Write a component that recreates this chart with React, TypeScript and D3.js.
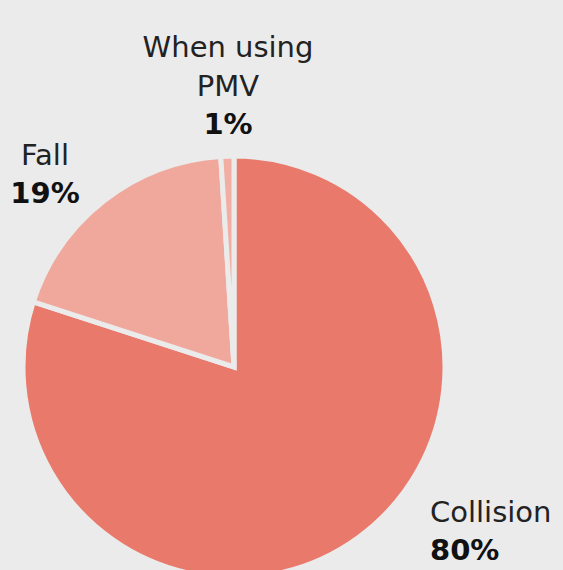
import { useEffect, useRef } from 'react'
import * as d3 from 'd3'

const categories = ['Collision', 'Fall', 'When using PMV']
const shares = [80, 19, 1]
const colors = ['#e8796b', '#f0a89c', '#f2aea3']

export default function App() {
  const svgRef = useRef<SVGSVGElement>(null)

  useEffect(() => {
    if (!svgRef.current) return
    const width = 563
    const height = 570
    const svg = d3.select(svgRef.current)
    svg.selectAll('*').remove()

    svg.append('rect').attr('width', width).attr('height', height).attr('fill', '#ebebeb')

    const cx = 234
    const cy = 367
    const radius = 211

    const data = categories.map((c, i) => ({ name: c, value: shares[i], color: colors[i] }))
    const pie = d3.pie<typeof data[0]>().value(d => d.value).sort(null)
    const arc = d3.arc<d3.PieArcDatum<typeof data[0]>>().innerRadius(0).outerRadius(radius)

    const g = svg.append('g').attr('transform', `translate(${cx},${cy})`)
    g.selectAll('path')
      .data(pie(data))
      .enter().append('path')
      .attr('d', arc)
      .attr('fill', d => d.data.color)
      .attr('stroke', '#ebebeb')
      .attr('stroke-width', 5)
      .attr('stroke-linejoin', 'miter')

    const font = "'DejaVu Sans', sans-serif"
    const label = (lines: { t: string; bold: boolean; y: number }[], x: number, anchor: string) => {
      lines.forEach(l => {
        svg.append('text')
          .attr('x', x)
          .attr('y', l.y)
          .attr('text-anchor', anchor)
          .attr('font-family', font)
          .attr('font-size', 29)
          .attr('font-weight', l.bold ? 700 : 400)
          .attr('fill', l.bold ? '#111' : '#222')
          .text(l.t)
      })
    }

    label([
      { t: 'When using', bold: false, y: 57 },
      { t: 'PMV', bold: false, y: 96 },
      { t: `${shares[2]}%`, bold: true, y: 134 },
    ], 228, 'middle')
    label([
      { t: 'Fall', bold: false, y: 165 },
      { t: `${shares[1]}%`, bold: true, y: 203 },
    ], 45, 'middle')
    label([
      { t: 'Collision', bold: false, y: 522 },
      { t: `${shares[0]}%`, bold: true, y: 560 },
    ], 430, 'start')
  }, [])

  return <svg ref={svgRef} width={563} height={570} style={{ position: 'absolute', left: 0, top: 0 }} />
}
